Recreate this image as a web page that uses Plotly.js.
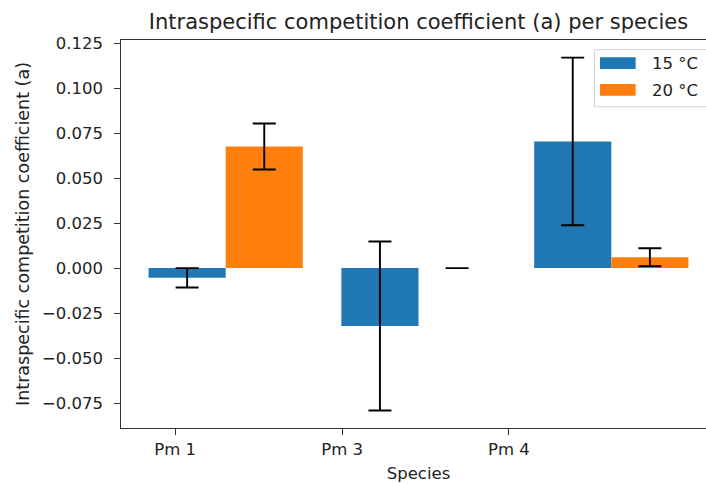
<!DOCTYPE html>
<html>
<head>
<meta charset="utf-8">
<script src="https://cdn.plot.ly/plotly-3.0.1.min.js"></script>
<style>
html,body{margin:0;padding:0;overflow:hidden;background:#fff;}
#chart{width:722px;height:484px;}
</style>
</head>
<body>
<div id="chart"></div>
<script>
// Data
const species = ['Pm 1', 'Pm 3', 'Pm 4'];
const temps = ['15 °C', '20 °C'];
const values15 = [-0.0054, -0.0322, 0.0704];
const errors15 = [0.0054, 0.0470, 0.0466];
const values20 = [0.0676, 0.0000, 0.0060];
const errors20 = [0.0128, 0.0000, 0.0050];
const yTicks = [-0.075, -0.050, -0.025, 0.000, 0.025, 0.050, 0.075, 0.100, 0.125];
const colors = ['#1f77b4', '#ff7f0e'];

const xIdx = species.map((_, i) => i);
const tickPositions = [-0.262, 0.604, 1.469];

const errStyle = {type: 'data', visible: true, color: '#000000', thickness: 1.9, width: 11.5};

const traces = [
  {
    type: 'bar', name: temps[0], x: xIdx, y: values15,
    marker: {color: colors[0]},
    error_y: Object.assign({array: errors15}, errStyle)
  },
  {
    type: 'bar', name: temps[1], x: xIdx, y: values20,
    marker: {color: colors[1]},
    error_y: Object.assign({array: errors20}, errStyle)
  }
];

const fontFam = 'DejaVu Sans, sans-serif';
const txt = '#222222';

// Manual legend (wide patches like the reference), in paper coordinates
const legendBox = {x0: 0.7955, x1: 0.988, y0: 0.828, y1: 0.975};
const patchX = [0.805, 0.865];
const patchY = [[0.925, 0.9554], [0.8563, 0.8865]];
const labelX = 0.889;
const labelY = [0.940, 0.871];

const shapes = [
  {type: 'rect', xref: 'paper', yref: 'paper', x0: legendBox.x0, x1: legendBox.x1, y0: legendBox.y0, y1: legendBox.y1,
   line: {color: '#d0d0d0', width: 1}, fillcolor: 'rgba(255,255,255,0.85)', layer: 'above'}
];
const annotations = [];
temps.forEach((t, i) => {
  shapes.push({type: 'rect', xref: 'paper', yref: 'paper', x0: patchX[0], x1: patchX[1], y0: patchY[i][0], y1: patchY[i][1],
    line: {width: 0}, fillcolor: colors[i], layer: 'above'});
  annotations.push({xref: 'paper', yref: 'paper', x: labelX, y: labelY[i], xanchor: 'left', yanchor: 'middle',
    text: t, showarrow: false, font: {family: fontFam, size: 16.5, color: txt}});
});

const layout = {
  width: 722, height: 484,
  margin: {l: 121, r: 6, t: 40, b: 56},
  paper_bgcolor: '#ffffff', plot_bgcolor: '#ffffff',
  barmode: 'group', bargap: 0.2, bargroupgap: 0,
  showlegend: false,
  font: {family: fontFam, color: txt, size: 16.5},
  title: {
    text: 'Intraspecific competition coefficient (a) per species',
    font: {family: fontFam, size: 21, color: txt},
    x: 0.5, xref: 'paper', xanchor: 'center', y: 1, yref: 'paper', yanchor: 'bottom',
    pad: {b: 11}
  },
  xaxis: {
    type: 'linear', range: [-0.543, 2.543],
    tickmode: 'array', tickvals: tickPositions, ticktext: species,
    ticks: 'outside', ticklen: 5.5, tickwidth: 1, tickcolor: '#333',
    showline: true, mirror: true, linecolor: '#333', linewidth: 1.2,
    showgrid: false, zeroline: false,
    tickfont: {family: fontFam, size: 16.5, color: txt},
    title: {text: 'Species', font: {family: fontFam, size: 16.5, color: txt}, standoff: 10}
  },
  yaxis: {
    range: [-0.0889, 0.1268],
    tickmode: 'array', tickvals: yTicks, tickformat: '.3f',
    ticks: 'outside', ticklen: 5.5, tickwidth: 1, tickcolor: '#333',
    ticklabelstandoff: 8,
    showline: true, mirror: true, linecolor: '#333', linewidth: 1.2,
    showgrid: false, zeroline: false,
    tickfont: {family: fontFam, size: 16.5, color: txt},
    title: {text: 'Intraspecific competition coefficient (a)', font: {family: fontFam, size: 17.5, color: txt}, standoff: 7}
  },
  shapes: shapes,
  annotations: annotations
};

Plotly.newPlot('chart', traces, layout, {displayModeBar: false, staticPlot: true});
</script>
</body>
</html>
